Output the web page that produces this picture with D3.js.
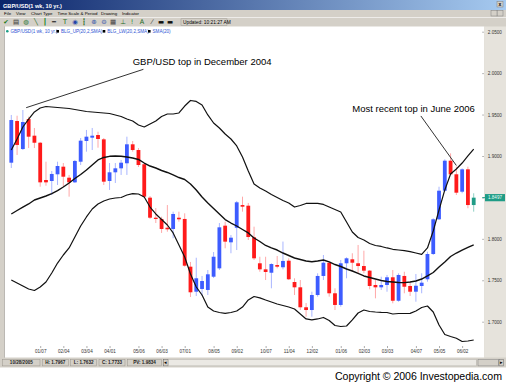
<!DOCTYPE html>
<html>
<head>
<meta charset="utf-8">
<script src="https://cdn.jsdelivr.net/npm/d3@7"></script>
<style>
  body { margin: 0; background: #fff; }
  svg { display: block; font-family: "Liberation Sans", Arial, sans-serif; }
</style>
</head>
<body>
<div id="chart"></div>
<script>
// GBP/USD weekly candles with Bollinger bands (20,2,SMA), Dec 2004 - Jun 2006

const firstWeek = new Date(2004, 11, 3);
const afterLastWeek = new Date(2006, 5, 17);

const opens = [1.8919, 1.9422, 1.9084, 1.9446, 1.9245, 1.9160, 1.8710, 1.8698, 1.8779, 1.8871,
  1.8738, 1.8682, 1.8931, 1.9181, 1.9221, 1.9253, 1.9201, 1.8698, 1.8803, 1.8851,
  1.8912, 1.9141, 1.9072, 1.8900, 1.8497, 1.8255, 1.8240, 1.8134, 1.8119, 1.8255,
  1.8240, 1.7664, 1.7362, 1.7395, 1.7383, 1.7543, 1.7644, 1.8159, 1.7958, 1.8134,
  1.8408, 1.8400, 1.8019, 1.7705, 1.7632, 1.7591, 1.7684, 1.7657, 1.7736, 1.7479,
  1.7415, 1.7174, 1.7141, 1.7322, 1.7552, 1.7712, 1.7343, 1.7202, 1.7705, 1.7753,
  1.7705, 1.7672, 1.7616, 1.7443, 1.7415, 1.7443, 1.7536, 1.7253, 1.7552, 1.7431,
  1.7362, 1.7431, 1.7512, 1.7817, 1.8236, 1.8581, 1.8943, 1.8779, 1.8569, 1.8839,
  1.8408];
const highs = [1.9495, 1.9486, 1.9555, 1.9474, 1.9338, 1.9169, 1.8931, 1.8819, 1.8931, 1.8915,
  1.8771, 1.8952, 1.9217, 1.9314, 1.9338, 1.9293, 1.9217, 1.8915, 1.8915, 1.8952,
  1.9233, 1.9181, 1.9096, 1.8915, 1.8517, 1.8372, 1.8267, 1.8408, 1.8328, 1.8328,
  1.8308, 1.7721, 1.7772, 1.7552, 1.7624, 1.7841, 1.8191, 1.8207, 1.8046, 1.8457,
  1.8509, 1.8433, 1.8147, 1.7784, 1.7784, 1.7705, 1.7793, 1.7967, 1.7765, 1.7524,
  1.7503, 1.7226, 1.7362, 1.7584, 1.7805, 1.7724, 1.7403, 1.7745, 1.7777, 1.7826,
  1.7926, 1.7857, 1.7624, 1.7503, 1.7543, 1.7564, 1.7624, 1.7584, 1.7603, 1.7483,
  1.7576, 1.7584, 1.7845, 1.8248, 1.8629, 1.8960, 1.9032, 1.8871, 1.8851, 1.8871,
  1.8550];
const lows = [1.8855, 1.9012, 1.9072, 1.9096, 1.9096, 1.8629, 1.8641, 1.8529, 1.8650, 1.8629,
  1.8509, 1.8674, 1.8891, 1.9052, 1.9072, 1.9100, 1.8650, 1.8590, 1.8674, 1.8771,
  1.8771, 1.9052, 1.8867, 1.8493, 1.8240, 1.8191, 1.8071, 1.8086, 1.8007, 1.8207,
  1.7664, 1.7298, 1.7310, 1.7310, 1.7322, 1.7527, 1.7624, 1.7886, 1.7826, 1.7865,
  1.8328, 1.7986, 1.7745, 1.7603, 1.7503, 1.7403, 1.7644, 1.7632, 1.7503, 1.7322,
  1.7141, 1.7060, 1.7060, 1.7302, 1.7503, 1.7302, 1.7141, 1.7181, 1.7524, 1.7603,
  1.7584, 1.7584, 1.7391, 1.7282, 1.7383, 1.7362, 1.7222, 1.7241, 1.7343, 1.7310,
  1.7241, 1.7343, 1.7483, 1.7805, 1.8227, 1.8569, 1.8771, 1.8529, 1.8550, 1.8369,
  1.8328];
const closes = [1.9434, 1.9133, 1.9410, 1.9233, 1.9160, 1.8682, 1.8682, 1.8783, 1.8879, 1.8750,
  1.8682, 1.8940, 1.9185, 1.9233, 1.9245, 1.9205, 1.8690, 1.8803, 1.8851, 1.8919,
  1.9141, 1.9072, 1.8891, 1.8509, 1.8255, 1.8240, 1.8119, 1.8115, 1.8300, 1.8236,
  1.7676, 1.7355, 1.7524, 1.7491, 1.7572, 1.7784, 1.8139, 1.7966, 1.8014, 1.8441,
  1.8388, 1.8022, 1.7765, 1.7632, 1.7600, 1.7696, 1.7664, 1.7733, 1.7512, 1.7415,
  1.7174, 1.7141, 1.7322, 1.7552, 1.7712, 1.7343, 1.7202, 1.7705, 1.7765, 1.7712,
  1.7672, 1.7616, 1.7431, 1.7415, 1.7443, 1.7536, 1.7253, 1.7564, 1.7422, 1.7362,
  1.7434, 1.7471, 1.7817, 1.8236, 1.8581, 1.8943, 1.8779, 1.8557, 1.8839, 1.8408,
  1.8497];

const bandUpper = [1.9072, 1.9205, 1.9350, 1.9446, 1.9531, 1.9579, 1.9597, 1.9591, 1.9585, 1.9579,
  1.9573, 1.9561, 1.9549, 1.9537, 1.9531, 1.9525, 1.9519, 1.9513, 1.9495, 1.9477,
  1.9446, 1.9422, 1.9374, 1.9350, 1.9386, 1.9422, 1.9477, 1.9507, 1.9507, 1.9519,
  1.9603, 1.9670, 1.9658, 1.9615, 1.9495, 1.9398, 1.9338, 1.9265, 1.9205, 1.9121,
  1.8988, 1.8819, 1.8662, 1.8614, 1.8577, 1.8535, 1.8499, 1.8463, 1.8433, 1.8384,
  1.8402, 1.8427, 1.8429, 1.8429, 1.8415, 1.8384, 1.8354, 1.8324, 1.8203, 1.8083,
  1.8016, 1.7986, 1.7944, 1.7920, 1.7908, 1.7890, 1.7874, 1.7865, 1.7857, 1.7845,
  1.7829, 1.7813, 1.7890, 1.8095, 1.8348, 1.8590, 1.8783, 1.8843, 1.8915, 1.9000,
  1.9084];
const sma20 = [1.8300, 1.8342, 1.8384, 1.8421, 1.8469, 1.8493, 1.8517, 1.8547, 1.8583, 1.8626,
  1.8674, 1.8728, 1.8777, 1.8831, 1.8891, 1.8952, 1.8982, 1.8996, 1.9000, 1.8997,
  1.8988, 1.8976, 1.8958, 1.8915, 1.8879, 1.8855, 1.8825, 1.8801, 1.8771, 1.8740,
  1.8716, 1.8662, 1.8590, 1.8505, 1.8433, 1.8366, 1.8300, 1.8233, 1.8191, 1.8155,
  1.8113, 1.8071, 1.8010, 1.7968, 1.7920, 1.7890, 1.7865, 1.7829, 1.7799, 1.7769,
  1.7751, 1.7733, 1.7724, 1.7733, 1.7745, 1.7721, 1.7690, 1.7666, 1.7636, 1.7612,
  1.7582, 1.7552, 1.7533, 1.7515, 1.7497, 1.7485, 1.7479, 1.7473, 1.7471, 1.7479,
  1.7491, 1.7515, 1.7552, 1.7594, 1.7660, 1.7721, 1.7787, 1.7829, 1.7865, 1.7896,
  1.7926];
const bandLower = [1.7503, 1.7467, 1.7431, 1.7395, 1.7377, 1.7419, 1.7479, 1.7588, 1.7708, 1.7805,
  1.7890, 1.8022, 1.8155, 1.8264, 1.8360, 1.8421, 1.8457, 1.8481, 1.8493, 1.8499,
  1.8529, 1.8545, 1.8541, 1.8505, 1.8384, 1.8300, 1.8233, 1.8167, 1.8071, 1.7926,
  1.7781, 1.7576, 1.7419, 1.7322, 1.7177, 1.7129, 1.7111, 1.7101, 1.7111, 1.7129,
  1.7177, 1.7262, 1.7304, 1.7288, 1.7262, 1.7238, 1.7214, 1.7196, 1.7177, 1.7153,
  1.7093, 1.7033, 1.7021, 1.7033, 1.7051, 1.7014, 1.6954, 1.6942, 1.6948, 1.7021,
  1.7105, 1.7141, 1.7123, 1.7117, 1.7113, 1.7111, 1.7093, 1.7099, 1.7099, 1.7101,
  1.7129, 1.7171, 1.7189, 1.7117, 1.6960, 1.6846, 1.6821, 1.6800, 1.6761, 1.6767,
  1.6779];

const dateTicks = ["2005-01-07", "2005-02-04", "2005-03-04", "2005-04-01", "2005-05-06", "2005-06-03",
  "2005-07-01", "2005-08-05", "2005-09-02", "2005-10-07", "2005-11-04", "2005-12-02",
  "2006-01-06", "2006-02-03", "2006-03-03", "2006-04-07", "2006-05-05", "2006-06-02"];
const priceTicks = [1.70, 1.75, 1.80, 1.85, 1.90, 1.95, 2.00, 2.05];

const legendLabels = ["GBP/USD(1 wk, 10 yr.)", "BLG_UP(20,2,SMA)", "BLG_LW(20,2,SMA)", "SMA(20)"];
const menuLabels = ["File", "View", "Chart Type", "Time Scale & Period", "Drawing", "Indicator"];
const statusLabels = ["10/28/2005", "H: 1.7967", "L: 1.7632", "C: 1.7733", "PV: 1.9834"];

const notes = [
  { text: "GBP/USD top in December 2004", at: new Date(2005, 3, 29), price: 2.0104,
    from: [new Date(2005, 4, 12), 2.0046], to: [new Date(2004, 11, 21), 1.9583] },
  { text: "Most recent top in June 2006", at: new Date(2006, 0, 20), price: 1.9531,
    from: [new Date(2006, 3, 13), 1.9483], to: [new Date(2006, 4, 26), 1.8885] }
];

const parseDay = d3.timeParse("%Y-%m-%d");
const weeks = d3.timeFriday.range(firstWeek, afterLastWeek);
const candles = weeks.map((date, i) => ({
  date, open: opens[i], high: highs[i], low: lows[i], close: closes[i], last: i === weeks.length - 1
}));

const width = 506, height = 386;
const face = "#d4d0c8";

const svg = d3.select("#chart").append("svg")
  .attr("width", width).attr("height", height)
  .attr("viewBox", `0 0 ${width} ${height}`);

const defs = svg.append("defs");
const grad = defs.append("linearGradient").attr("id", "titleGrad");
grad.append("stop").attr("offset", "0%").attr("stop-color", "#0a246a");
grad.append("stop").attr("offset", "100%").attr("stop-color", "#a6caf0");

// ---- window chrome ----
svg.append("rect").attr("width", width).attr("height", 368).attr("fill", face);
svg.append("rect").attr("width", width).attr("height", 10).attr("fill", "url(#titleGrad)");
svg.append("text").attr("x", 3).attr("y", 7.5)
  .attr("font-size", 5.6).attr("font-weight", "bold").attr("fill", "#fff")
  .text("GBP/USD(1 wk, 10 yr.)");

// title close button and menu buttons
[[497, 1.5], [497, 10.5], [491, 10.5]].forEach(([bx, by]) => {
  svg.append("rect").attr("x", bx).attr("y", by).attr("width", 6).attr("height", 5.5)
    .attr("fill", face).attr("stroke", "#808080").attr("stroke-width", 0.5);
});
svg.append("text").attr("x", 500).attr("y", 6.3).attr("text-anchor", "middle")
  .attr("font-size", 5).attr("font-weight", "bold").text("x");

const menuX = [4, 16, 31, 57.5, 101, 122];
svg.append("g").selectAll("text").data(menuLabels).join("text")
  .attr("x", (d, i) => menuX[i]).attr("y", 15.3)
  .attr("font-size", 4.4).attr("fill", "#000").text(d => d);

// toolbar
svg.append("line").attr("x1", 0).attr("x2", width).attr("y1", 17.5).attr("y2", 17.5)
  .attr("stroke", "#fff").attr("stroke-width", 0.6);
const icons = [
  { g: "✔", c: "#1b7a1b" }, { g: "▤", c: "#333" }, { g: "◍", c: "#2a7a3a" }, { g: "╲", c: "#1a6a1a" },
  { g: "┃", c: "#1b8a2b" }, { g: "━", c: "#222" }, { g: "T", c: "#1b6a1b" }, { g: "◉", c: "#2244aa" },
  { g: "┇", c: "#1b6a1b" }, { g: "⊕", c: "#3355aa" }, { g: "⊖", c: "#3355aa" }, { g: "▦", c: "#444" },
  { g: "⊥", c: "#1b6a1b" }, { g: "!", c: "#1b8a2b" }, { g: "A", c: "#1b6a1b" }, { g: "⁄", c: "#333" },
  { g: "▬", c: "#111" }, { g: "▬", c: "#111" }
];
const iconX = [6, 16, 26, 36, 45, 54, 65, 75, 84, 94, 104, 113, 123, 132, 142, 152, 161, 170];
svg.append("g").selectAll("text").data(icons).join("text")
  .attr("x", (d, i) => iconX[i]).attr("y", 24.3).attr("text-anchor", "middle")
  .attr("font-family", "DejaVu Sans").attr("font-size", 6.5)
  .attr("fill", d => d.c).text(d => d.g);
svg.append("rect").attr("x", 181).attr("y", 18.8).attr("width", 46).attr("height", 6.6)
  .attr("fill", face).attr("stroke", "#9a968e").attr("stroke-width", 0.5);
svg.append("text").attr("x", 183).attr("y", 23.8).attr("font-size", 4.8).attr("fill", "#000")
  .text("Updated: 10:21:27 AM");

// chart panes
svg.append("rect").attr("x", 0).attr("y", 26.5).attr("width", 4.5).attr("height", 331)
  .attr("fill", face);
svg.append("line").attr("x1", 4.5).attr("x2", 4.5).attr("y1", 26.5).attr("y2", 357.5)
  .attr("stroke", "#8f8b84").attr("stroke-width", 0.6);
svg.append("rect").attr("x", 4.8).attr("y", 26.5).attr("width", 479.5).attr("height", 331)
  .attr("fill", "#fff");
svg.append("rect").attr("x", 484.3).attr("y", 26.5).attr("width", 21.7).attr("height", 331)
  .attr("fill", "#e6e3dc");

// legend
const legendX = [7.3, 57.7, 104, 149.3];
const legend = svg.append("g").selectAll("g").data(legendLabels).join("g")
  .attr("transform", (d, i) => `translate(${legendX[i]},31.3)`);
legend.append("rect").attr("x", -1.3).attr("y", -1.3).attr("width", 2.6).attr("height", 2.6)
  .attr("rx", (d, i) => i === 0 ? 1.3 : 0)
  .attr("fill", (d, i) => i === 0 ? "#1a9e86" : "#000");
legend.append("text").attr("x", 3.2).attr("y", 1.7)
  .attr("font-size", 4.6).attr("fill", "#2f55d4").text(d => d);

// ---- scales ----
const x = d3.scaleTime().domain([weeks[0], weeks[weeks.length - 1]]).range([11.3, 473.7]);
const y = d3.scaleLinear().domain([1.70, 2.05]).range([321.7, 31.7]);

// axes
const xAxis = svg.append("g").attr("transform", "translate(0,346)")
  .call(d3.axisBottom(x).tickValues(dateTicks.map(parseDay))
    .tickFormat(d3.timeFormat("%m/%d")).tickSize(2).tickPadding(1.5));
xAxis.select(".domain").remove();
xAxis.selectAll("line").attr("stroke", "#777").attr("stroke-width", 0.6);
xAxis.selectAll("text").attr("font-size", 4.6).attr("fill", "#333")
  .attr("font-family", "Liberation Sans, Arial, sans-serif");

const yAxis = svg.append("g").attr("transform", "translate(482.3,0)")
  .call(d3.axisRight(y).tickValues(priceTicks).tickFormat(d3.format(".4f"))
    .tickSize(1.5).tickPadding(4));
yAxis.select(".domain").remove();
yAxis.selectAll("line").attr("stroke", "#666").attr("stroke-width", 0.6);
yAxis.selectAll("text").attr("font-size", 4.6).attr("fill", "#333")
  .attr("font-family", "Liberation Sans, Arial, sans-serif");

// ---- candles ----
const candleG = svg.append("g");
const upBody = "#3d5cff", downBody = "#ff1a1a", lastBody = "#1f9c86";
const upWick = "#a9b6ff", downWick = "#ffa8a8", lastWick = "#8fd0c4";
const bodyW = 3.8;

candleG.selectAll("line").data(candles).join("line")
  .attr("x1", d => x(d.date)).attr("x2", d => x(d.date))
  .attr("y1", d => y(d.high)).attr("y2", d => y(d.low))
  .attr("stroke", d => d.last ? lastWick : (d.close >= d.open ? upWick : downWick))
  .attr("stroke-width", 1);

candleG.selectAll("rect").data(candles).join("rect")
  .attr("x", d => x(d.date) - bodyW / 2)
  .attr("width", bodyW)
  .attr("y", d => y(Math.max(d.open, d.close)))
  .attr("height", d => Math.max(1.2, Math.abs(y(d.open) - y(d.close))))
  .attr("fill", d => d.last ? lastBody : (d.close >= d.open ? upBody : downBody));

// ---- bollinger bands ----
const line = d3.line().x((d, i) => x(weeks[i])).y(d => y(d)).curve(d3.curveLinear);
[bandUpper, sma20, bandLower].forEach((series, k) => {
  svg.append("path").datum(series)
    .attr("d", line)
    .attr("fill", "none")
    .attr("stroke", "#111")
    .attr("stroke-width", k === 1 ? 1.4 : 1.2)
    .attr("stroke-linejoin", "round");
});

// last price marker on the price scale
const lastClose = closes[closes.length - 1];
svg.append("rect").attr("x", 485).attr("y", y(lastClose) - 3.6).attr("width", 20).attr("height", 7.2)
  .attr("fill", lastBody);
svg.append("line").attr("x1", 482.3).attr("x2", 485).attr("y1", y(lastClose)).attr("y2", y(lastClose))
  .attr("stroke", lastBody).attr("stroke-width", 1);
svg.append("text").attr("x", 495).attr("y", y(lastClose) + 1.7).attr("text-anchor", "middle")
  .attr("font-size", 4.6).attr("fill", "#e8fff8").text(d3.format(".4f")(lastClose));

// ---- annotations ----
const noteG = svg.append("g");
notes.forEach(n => {
  noteG.append("line")
    .attr("x1", x(n.from[0])).attr("y1", y(n.from[1]))
    .attr("x2", x(n.to[0])).attr("y2", y(n.to[1]))
    .attr("stroke", "#333").attr("stroke-width", 1);
  noteG.append("text")
    .attr("x", x(n.at)).attr("y", y(n.price))
    .attr("font-size", 9.5).attr("fill", "#000").text(n.text);
});

// ---- status bar ----
const statusX = [2.7, 42.3, 70.7, 99, 127.3];
const statusW = [37.3, 26, 26, 26, 34.4];
const status = svg.append("g").selectAll("g").data(statusLabels).join("g")
  .attr("transform", (d, i) => `translate(${statusX[i]},359.3)`);
status.append("rect").attr("width", (d, i) => statusW[i]).attr("height", 6.6)
  .attr("fill", face).attr("stroke", "#9a968e").attr("stroke-width", 0.5);
status.append("text").attr("x", (d, i) => statusW[i] / 2).attr("y", 4.9).attr("text-anchor", "middle")
  .attr("font-size", 4.6).attr("font-weight", "bold").attr("fill", "#222").text(d => d);

// scroll bar
svg.append("rect").attr("x", 163.5).attr("y", 359.3).attr("width", 4.6).attr("height", 6.6)
  .attr("fill", face).attr("stroke", "#666").attr("stroke-width", 0.5);
svg.append("text").attr("x", 165.8).attr("y", 364.4).attr("text-anchor", "middle")
  .attr("font-size", 4.5).text("◂");
svg.append("rect").attr("x", 168.3).attr("y", 359.3).attr("width", 308).attr("height", 6.6)
  .attr("fill", "#ebe9e4").attr("stroke", "#b0ada6").attr("stroke-width", 0.5);
svg.append("rect").attr("x", 478).attr("y", 359.3).attr("width", 20.5).attr("height", 6.6)
  .attr("fill", face).attr("stroke", "#808080").attr("stroke-width", 0.5);
svg.append("rect").attr("x", 499).attr("y", 359.3).attr("width", 4.5).attr("height", 6.6)
  .attr("fill", face).attr("stroke", "#666").attr("stroke-width", 0.5);
svg.append("text").attr("x", 501.3).attr("y", 364.4).attr("text-anchor", "middle")
  .attr("font-size", 4.5).text("▸");

svg.append("rect").attr("y", 367.5).attr("width", width).attr("height", 18.5).attr("fill", "#fff");
svg.append("text").attr("x", 502).attr("y", 380.3).attr("text-anchor", "end")
  .attr("font-size", 10.6).attr("fill", "#000")
  .attr("textLength", 167).attr("lengthAdjust", "spacing")
  .text("Copyright © 2006 Investopedia.com");
</script>
</body>
</html>
